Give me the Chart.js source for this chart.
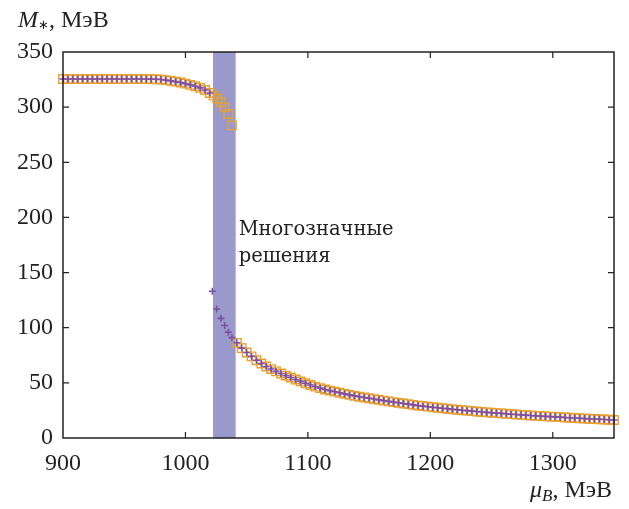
<!DOCTYPE html>
<html>
<head>
<meta charset="utf-8">
<script src="https://cdn.jsdelivr.net/npm/chart.js@4"></script>
<style>
  html, body { margin: 0; padding: 0; background: #fff; }
  #wrap { width: 629px; height: 509px; }
</style>
</head>
<body>
<div id="wrap"><canvas id="chart"></canvas></div>
<script>
// upper branch (both methods), muB in MeV, M* in MeV
var upperMu = [900,904,908,912,916,920,924,928,932,936,940,944,948,952,956,960,964,968,972,
	976,980,984,988,992,996,1000,1004,1008,1012,1016,1020];
var upperM = [325.5,325.5,325.5,325.5,325.5,325.5,325.5,325.5,325.5,325.5,325.5,325.5,325.5,325.5,325.5,325.5,325.5,325.5,325.4,
	325.3,325.0,324.5,323.8,323.1,322.3,321.3,320.2,319.0,317.5,315.5,312.8];

// inside the band: upper continuation (squares) and lower branch (crosses)
var squareExtraMu = [1023,1026,1029,1032,1035,1038];
var squareExtraM = [310.4,307.8,304.4,299.8,293.8,283.5];
var crossExtraMu = [1022,1025.5,1029,1032,1035,1038];
var crossExtraM = [133,117,108.5,102,96,91];

// lower branch (both methods)
var lowerMu = [1042,1046,1050,1054,1058,1062,1066,1070,1074,1078,1082,1086,1090,1094,1098,
	1102,1106,1110,1114,1118,1122,1126,1130,1134,1138,1142,1146,1150,1154,1158,1162,1166,1170,
	1174,1178,1182,1186,1190,1194,1198,1202,1206,1210,1214,1218,1222,1226,1230,1234,1238,1242,
	1246,1250,1254,1258,1262,1266,1270,1274,1278,1282,1286,1290,1294,1298,1302,1306,1310,1314,
	1318,1322,1326,1330,1334,1338,1342,1346,1350];
var lowerM = [86.3,81.5,77.5,74.0,70.5,67.5,64.8,62.5,60.4,58.5,56.6,54.8,53.0,51.3,49.7,
	48.0,46.6,45.2,44.0,43.0,42.0,41.0,40.0,39.1,38.2,37.4,36.7,36.0,35.3,34.6,33.9,33.2,32.5,
	31.9,31.3,30.7,30.0,29.4,28.9,28.4,27.9,27.4,27.0,26.5,26.0,25.6,25.2,24.8,24.4,24.0,23.6,
	23.2,22.9,22.6,22.3,22.0,21.6,21.3,21.0,20.7,20.4,20.1,19.9,19.6,19.4,19.2,18.9,18.6,18.4,
	18.1,17.9,17.6,17.4,17.2,17.0,16.8,16.5,16.3];

var bandRange = [1022.5, 1041];
var xTicks = [900,1000,1100,1200,1300];
var yTicks = [0,50,100,150,200,250,300,350];
var noteLines = ['Многозначные', 'решения'];

var FONT = '"Liberation Serif", serif';

function pts(muArr, mArr) {
	var out = [];
	for (var i = 0; i < muArr.length; i++) out.push({x: muArr[i], y: mArr[i]});
	return out;
}

var crossData = pts(upperMu, upperM).concat(pts(crossExtraMu, crossExtraM), pts(lowerMu, lowerM));
var squareData = pts(upperMu, upperM).concat(pts(squareExtraMu, squareExtraM), pts(lowerMu, lowerM));

var framePlugin = {
	id: 'frame',
	beforeDatasetsDraw: function(chart) {
		var ctx = chart.ctx, a = chart.chartArea, x = chart.scales.x, y = chart.scales.y;
		var x0 = x.getPixelForValue(bandRange[0]);
		var x1 = x.getPixelForValue(bandRange[1]);
		ctx.save();
		ctx.fillStyle = '#9999cc';
		ctx.fillRect(x0, a.top, x1 - x0, a.bottom - a.top);
		ctx.fillStyle = '#222';
		ctx.font = '19.5px "DejaVu Serif", serif';
		ctx.textBaseline = 'alphabetic';
		ctx.fillText(noteLines[0], x1 + 3, y.getPixelForValue(184));
		ctx.fillText(noteLines[1], x1 + 3, y.getPixelForValue(160));
		ctx.restore();
	},
	afterDraw: function(chart) {
		var ctx = chart.ctx, a = chart.chartArea, x = chart.scales.x, y = chart.scales.y;
		var tl = 6;
		ctx.save();
		ctx.strokeStyle = '#222';
		ctx.lineWidth = 1.5;
		ctx.strokeRect(a.left, a.top, a.right - a.left, a.bottom - a.top);
		ctx.lineWidth = 1.2;
		ctx.beginPath();
		xTicks.forEach(function(v) {
			if (v === x.min) return;
			var px = x.getPixelForValue(v);
			ctx.moveTo(px, a.bottom); ctx.lineTo(px, a.bottom - tl);
			ctx.moveTo(px, a.top); ctx.lineTo(px, a.top + tl);
		});
		yTicks.forEach(function(v) {
			if (v === y.min || v === y.max) return;
			var py = y.getPixelForValue(v);
			ctx.moveTo(a.left, py); ctx.lineTo(a.left + tl, py);
			ctx.moveTo(a.right, py); ctx.lineTo(a.right - tl, py);
		});
		ctx.stroke();

		// axis titles
		ctx.fillStyle = '#222';
		ctx.textBaseline = 'alphabetic';
		var bx = 18, by = 27;
		ctx.font = 'italic 24px ' + FONT;
		ctx.fillText('M', bx, by);
		bx += ctx.measureText('M').width;
		ctx.font = '13px ' + FONT;
		ctx.fillText('∗', bx, by + 2);
		bx += ctx.measureText('∗').width;
		ctx.font = '24px ' + FONT;
		ctx.fillText(', МэВ', bx, by);

		bx = 530; by = 497;
		ctx.font = 'italic 24px ' + FONT;
		ctx.fillText('μ', bx, by);
		bx += ctx.measureText('μ').width;
		ctx.font = 'italic 17px ' + FONT;
		ctx.fillText('B', bx, by + 4);
		bx += ctx.measureText('B').width;
		ctx.font = '24px ' + FONT;
		ctx.fillText(', МэВ', bx, by);
		ctx.restore();
	}
};

new Chart(document.getElementById('chart'), {
	type: 'scatter',
	data: {
		datasets: [{
			label: 'cross',
			data: crossData,
			pointStyle: 'cross',
			pointRadius: 3.5,
			pointBorderWidth: 1.6,
			borderColor: '#7d4fa6',
			backgroundColor: '#7d4fa6',
			clip: false
		}, {
			label: 'square',
			data: squareData,
			pointStyle: 'rect',
			pointRadius: 6,
			pointBorderWidth: 1.4,
			borderColor: '#e6a030',
			backgroundColor: 'rgba(0,0,0,0)',
			clip: false
		}]
	},
	options: {
		responsive: true,
		maintainAspectRatio: false,
		animation: false,
		layout: { padding: { top: 52, right: 15, bottom: 0, left: 0 } },
		plugins: { legend: { display: false }, tooltip: { enabled: false } },
		scales: {
			x: {
				type: 'linear',
				min: 900,
				max: 1350,
				afterBuildTicks: function(s) { s.ticks = xTicks.map(function(v) { return {value: v}; }); },
				afterFit: function(s) { s.height = 71; },
				grid: { drawOnChartArea: false, drawTicks: false },
				border: { display: false },
				ticks: { padding: 11, color: '#222', font: { family: FONT, size: 24 }, callback: function(v) { return String(v); } }
			},
			y: {
				type: 'linear',
				min: 0,
				max: 350,
				afterBuildTicks: function(s) { s.ticks = yTicks.map(function(v) { return {value: v}; }); },
				afterFit: function(s) { s.width = 63; },
				grid: { drawOnChartArea: false, drawTicks: false },
				border: { display: false },
				ticks: { padding: 10, color: '#222', font: { family: FONT, size: 24 }, callback: function(v) { return String(v); } }
			}
		}
	},
	plugins: [framePlugin]
});
</script>
</body>
</html>
